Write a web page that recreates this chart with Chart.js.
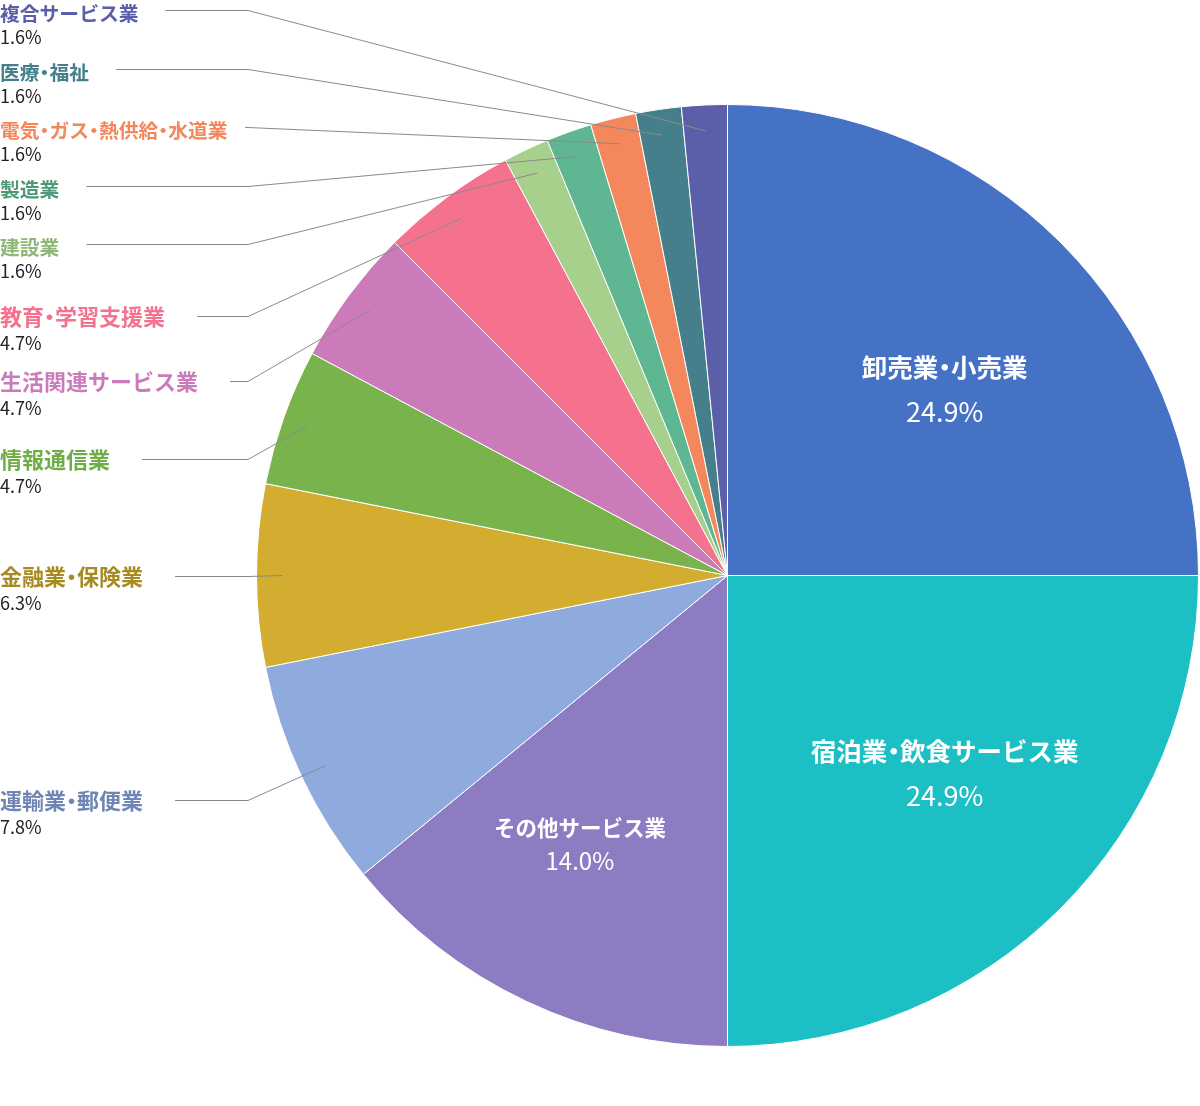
<!DOCTYPE html>
<html lang="ja">
<head>
<meta charset="utf-8">
<title>業種別構成比</title>
<script src="https://cdn.jsdelivr.net/npm/chart.js"></script>
<style>
  html, body {
    margin: 0;
    padding: 0;
    background: #ffffff;
  }
  #wrap {
    position: relative;
    width: 1200px;
    height: 1106px;
  }
</style>
</head>
<body>
<div id="wrap"><canvas id="chart"></canvas></div>
<script>
// slices, clockwise from 12 o'clock
const categories = [
  "卸売業・小売業",
  "宿泊業・飲食サービス業",
  "その他サービス業",
  "運輸業・郵便業",
  "金融業・保険業",
  "情報通信業",
  "生活関連サービス業",
  "教育・学習支援業",
  "建設業",
  "製造業",
  "電気・ガス・熱供給・水道業",
  "医療・福祉",
  "複合サービス業",
];

// printed shares (%)
const shares = [24.9, 24.9, 14.0, 7.8, 6.3, 4.7, 4.7, 4.7, 1.6, 1.6, 1.6, 1.6, 1.6];

// slice sizes as measured from the slice angles (64ths of the circle)
const sliceSizes = [16, 16, 9, 5, 4, 3, 3, 3, 1, 1, 1, 1, 1];

const sliceColors = [
  "#4672c6",
  "#1cbfc4",
  "#8e7cc3",
  "#8faadc",
  "#d3ad2f",
  "#78b44b",
  "#cc7bba",
  "#f5728f",
  "#a8d08d",
  "#5eb792",
  "#f4875b",
  "#457f8c",
  "#5b5ea8",
];

const labelColors = [
  "#ffffff",
  "#ffffff",
  "#ffffff",
  "#6f86b4",
  "#a88a22",
  "#6fae47",
  "#cc7bba",
  "#f5728f",
  "#8db876",
  "#4e9a78",
  "#f4875b",
  "#457f8c",
  "#5b5ea8",
];

// first three slices carry their label inside
const insideCount = 3;

// vertical slot of each outside label (leader line height), as laid out in the reference
const outsideSlotY = {
  3: 800,
  4: 576,
  5: 459,
  6: 381,
  7: 316,
  8: 244,
  9: 186,
  10: 127,
  11: 69,
  12: 10,
};

const FONT = '"Noto Sans CJK JP", "Noto Sans", sans-serif';
const elbowX = 248;

// draw text with a half-width middle dot (proportional spacing like the original)
function drawText(ctx, text, x, y, size, align) {
  const parts = text.split("・");
  const dotW = size * 0.5;
  const widths = parts.map((p) => ctx.measureText(p).width);
  const total = widths.reduce((a, b) => a + b, 0) + dotW * (parts.length - 1);
  let cx = align === "center" ? x - total / 2 : x;
  parts.forEach((p, k) => {
    ctx.textAlign = "left";
    ctx.fillText(p, cx, y);
    cx += widths[k];
    if (k < parts.length - 1) {
      ctx.textAlign = "center";
      ctx.fillText("・", cx + dotW / 2, y);
      cx += dotW;
    }
  });
  return total;
}

const pieLabels = {
  id: "pieLabels",
  afterDatasetsDraw(chart) {
    const ctx = chart.ctx;
    const arcs = chart.getDatasetMeta(0).data;

    ctx.save();
    ctx.textBaseline = "middle";
    arcs.forEach((arc, i) => {
      const mid = (arc.startAngle + arc.endAngle) / 2;
      const r = arc.outerRadius;
      const text = categories[i];
      const value = shares[i].toFixed(1) + "%";

      if (i < insideCount) {
        const big = shares[i] >= 20;
        const kx = big ? 0.652 : 0.733;
        const ky = big ? 0.577 : 0.617;
        const cx = arc.x + Math.cos(mid) * r * kx;
        const cy = arc.y + Math.sin(mid) * r * ky + 6;
        const half = big ? 22 : 16.5;
        const nameSize = big ? 25.5 : 21.5;
        const valueSize = big ? 27 : 24;
        ctx.fillStyle = labelColors[i];
        ctx.font = "bold " + nameSize + "px " + FONT;
        drawText(ctx, text, cx, cy - half, nameSize, "center");
        ctx.font = valueSize + "px " + FONT;
        ctx.textAlign = "center";
        ctx.fillText(value, cx, cy + half);
        return;
      }

      const lineY = outsideSlotY[i];
      const small = shares[i] < 3;
      const nameSize = small ? 19.8 : 22;
      ctx.font = "bold " + nameSize + "px " + FONT;
      ctx.fillStyle = labelColors[i];
      const textW = drawText(ctx, text, 0, lineY + (small ? 3.5 : 1), nameSize, "left");

      ctx.font = "18px " + FONT;
      ctx.fillStyle = "#222222";
      ctx.textAlign = "left";
      ctx.fillText(value, 0, lineY + 27.5);

      // leader line: horizontal run, then into the slice
      const endR = r * 0.945;
      const ex = arc.x + Math.cos(mid) * endR;
      const ey = arc.y + Math.sin(mid) * endR;
      const startX = Math.min(textW + (small ? 27 : 32), elbowX - 3);
      ctx.strokeStyle = "#8a8a8a";
      ctx.lineWidth = 1;
      ctx.beginPath();
      ctx.moveTo(startX, lineY + 0.5);
      ctx.lineTo(elbowX, lineY + 0.5);
      ctx.lineTo(ex, ey);
      ctx.stroke();
    });
    ctx.restore();
  },
};

new Chart(document.getElementById("chart"), {
  type: "pie",
  data: {
    labels: categories,
    datasets: [
      {
        data: sliceSizes,
        backgroundColor: sliceColors,
        borderColor: "#ffffff",
        borderWidth: 1,
      },
    ],
  },
  options: {
    responsive: true,
    maintainAspectRatio: false,
    animation: false,
    events: [],
    layout: {
      padding: { left: 256, right: 1, top: 104, bottom: 59 },
    },
    plugins: {
      legend: { display: false },
      tooltip: { enabled: false },
    },
  },
  plugins: [pieLabels],
});
</script>
</body>
</html>
